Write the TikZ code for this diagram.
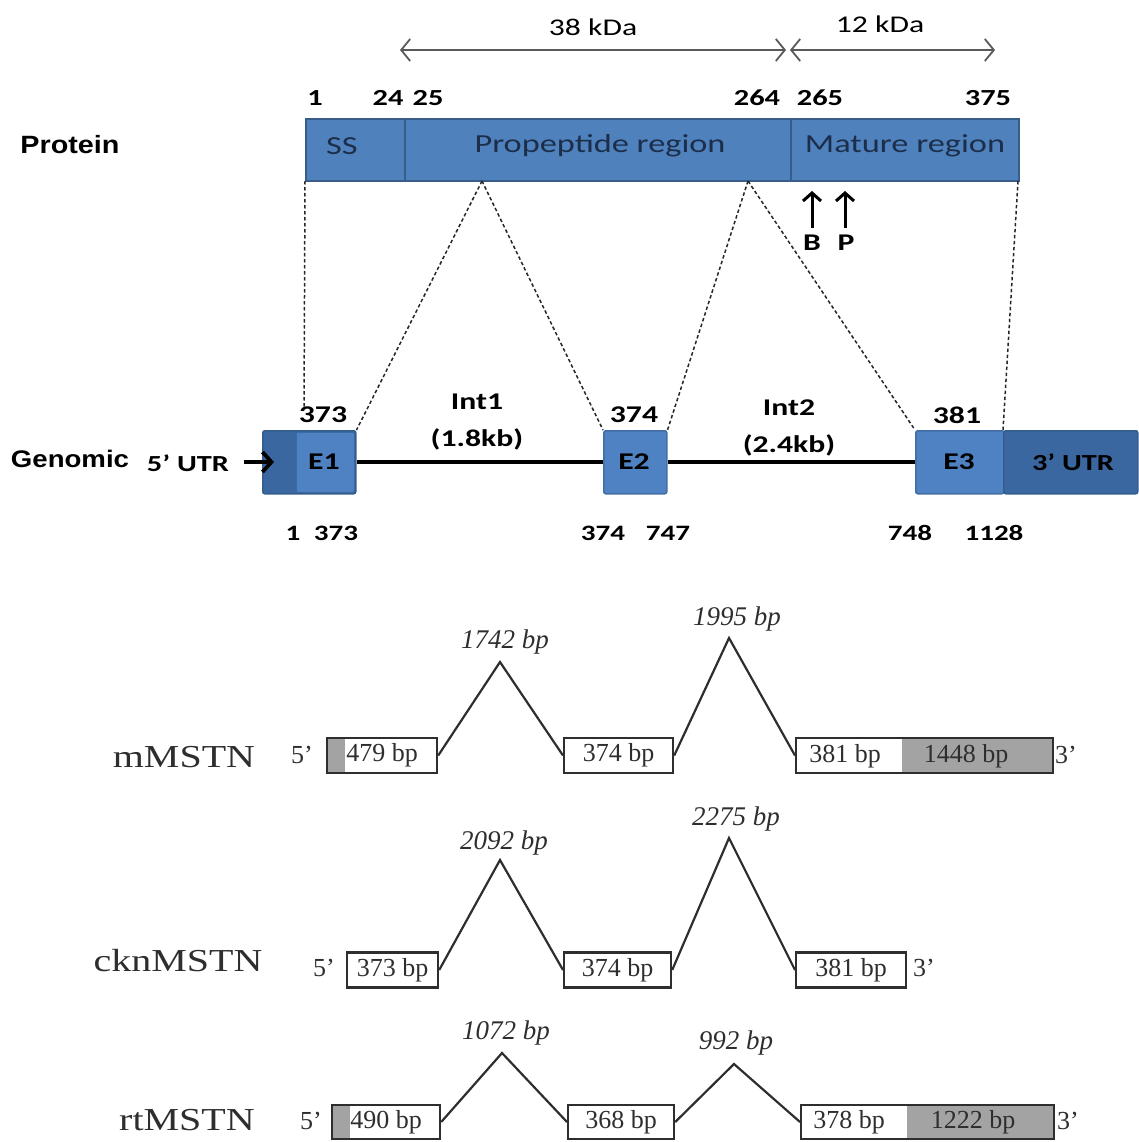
\documentclass[tikz,border=0pt]{standalone}
\usepackage{fontspec}
\setmainfont{Liberation Serif}
\newfontfamily\calfont[FakeStretch=1.32]{Carlito}
\newfontfamily\arialfont[FakeStretch=1.15]{Liberation Sans}
\newfontfamily\labfont[FakeStretch=1.25]{Liberation Serif}
\usetikzlibrary{arrows.meta}
\definecolor{pblue}{HTML}{4F81BD}
\definecolor{pborder}{HTML}{385D8A}
\definecolor{gdarkc}{HTML}{3A67A0}
\definecolor{glightc}{HTML}{4E82C2}
\definecolor{navytext}{HTML}{1C2E4A}
\definecolor{utrgrey}{HTML}{A3A3A3}
\definecolor{lowink}{HTML}{2E2E2E}
\tikzset{
  cal/.style={font=\calfont\fontsize{#1}{#1}\selectfont},
  calb/.style={font=\calfont\bfseries\fontsize{#1}{#1}\selectfont},
  arb/.style={font=\arialfont\bfseries\fontsize{#1}{#1}\selectfont},
  tms/.style={font=\fontsize{#1}{#1}\selectfont, text=lowink},
  tmslab/.style={font=\labfont\fontsize{#1}{#1}\selectfont, text=lowink},
  tmsi/.style={font=\itshape\fontsize{#1}{#1}\selectfont, text=lowink},
  pseg/.style={draw=pborder, fill=pblue, line width=2pt, minimum height=62pt, inner sep=0pt, anchor=north west},
  gdark/.style={draw=gdarkc!90!black, fill=gdarkc, line width=1.5pt, rounded corners=2pt, minimum height=63pt, inner sep=0pt, anchor=north west},
  glight/.style={draw=glightc!85!black, fill=glightc, line width=1.5pt, rounded corners=2pt, minimum height=63pt, inner sep=0pt, anchor=north west},
  kda/.style={draw=black!65, line width=1.8pt, {Straight Barb[length=9pt,width=22pt]}-{Straight Barb[length=9pt,width=22pt]}},
  uparrow/.style={draw=black, line width=3pt, -{Straight Barb[length=8pt,width=18pt]}},
  dashconn/.style={draw=black!85, line width=1.5pt, dash pattern=on 3.5pt off 2.5pt},
  intron/.style={draw=black, line width=4pt},
  exonbox/.style={draw=lowink, line width=2.2pt, minimum height=35pt, inner sep=0pt, anchor=west, font=\fontsize{26}{26}\selectfont, text=lowink},
  vline/.style={draw=lowink, line width=2.2pt},
}
\begin{document}
\begin{tikzpicture}[x=1pt,y=-1pt]
\useasboundingbox (0,0) rectangle (1139,1142);

% ---------- kDa arrows ----------
\coordinate (k38l) at (400,50);
\coordinate (k38r) at (786,50);
\coordinate (k12l) at (790,50);
\coordinate (k12r) at (995,50);
\draw[kda] (k38l) -- (k38r);
\draw[kda] (k12l) -- (k12r);
\node[cal=24] (t38) at (593,27) {38 kDa};
\node[cal=24] (t12) at (880,24) {12 kDa};

% ---------- residue numbers ----------
\node[calb=23] (n1) at (315,98) {1};
\node[calb=23] (n24) at (388,98) {24};
\node[calb=23] (n25) at (428,98) {25};
\node[calb=23] (n264) at (757,98) {264};
\node[calb=23] (n265) at (820,98) {265};
\node[calb=23] (n375) at (988,98) {375};

% ---------- protein bar ----------
\node[arb=25] (protein) at (70,145) {Protein};
\node[pseg, minimum width=99pt] (ss) at (305,118) {};
\node[pseg, minimum width=386pt] (prop) at (404,118) {};
\node[pseg, minimum width=228pt] (mat) at (790,118) {};
\node[cal=26, text=navytext] (tss) at (342,146) {SS};
\node[cal=26, text=navytext] (tprop) at (600,146) {Propeptide region};
\node[cal=26, text=navytext] (tmat) at (905,146) {Mature region};

% ---------- B / P ----------
\coordinate (b0) at (812,228);
\coordinate (b1) at (812,191);
\coordinate (p0) at (845,228);
\coordinate (p1) at (845,191);
\draw[uparrow] (b0) -- (b1);
\draw[uparrow] (p0) -- (p1);
\node[calb=24] (tb) at (812,243) {B};
\node[calb=24] (tp) at (846,243) {P};

% ---------- genomic ----------
\node[gdark, minimum width=93pt] (e1) at (262,430) {};
\node[glight, draw=none, rounded corners=1pt, minimum width=57pt, minimum height=59pt] (e1l) at (296,432) {};
\node[glight, minimum width=63pt] (e2) at (603,430) {};
\node[glight, minimum width=88pt] (e3) at (915,430) {};
\node[gdark, minimum width=134pt] (utr) at (1003,430) {};
\draw[intron] (e1.east) -- (e2.west);
\draw[intron] (e2.east) -- (e3.west);

\node[calb=24] (te1) at (324,462) {E1};
\node[calb=24] (te2) at (634,462) {E2};
\node[calb=24] (te3) at (959,462) {E3};
\node[calb=23] (tutr) at (1073,462) {3’ UTR};

\node[arb=24] (genomic) at (70,459) {Genomic};
\node[calb=23] (utr5) at (188,463) {5’ UTR};
\coordinate (ga0) at (244,462);
\coordinate (ga1) at (274,462);
\draw[draw=black, line width=3.8pt, -{Straight Barb[length=9pt,width=20pt]}] (ga0) -- (ga1);

\node[calb=24] (g373) at (323,415) {373};
\node[calb=24] (g374) at (634,415) {374};
\node[calb=24] (g381) at (957,415) {381};

\node[calb=24] (int1) at (477,402) {Int1};
\node[calb=24] (int1b) at (477,439) {(1.8kb)};
\node[calb=24] (int2) at (789,408) {Int2};
\node[calb=24] (int2b) at (789,445) {(2.4kb)};

\node[calb=22] (b1n) at (293,533) {1};
\node[calb=22] (b373) at (336,533) {373};
\node[calb=22] (b374) at (603,533) {374};
\node[calb=22] (b747) at (668,533) {747};
\node[calb=22] (b748) at (910,533) {748};
\node[calb=22] (b1128) at (994,533) {1128};

% ---------- dashed connectors ----------
\coordinate (pa) at (305,181);
\coordinate (pb) at (482,181);
\coordinate (pc) at (748,181);
\coordinate (pd) at (1018,181);
\coordinate (ga) at (304,410);
\draw[dashconn] (pa) -- (ga);
\draw[dashconn] (pb) -- (e1.north east);
\draw[dashconn] (pb) -- (e2.north west);
\draw[dashconn] (pc) -- (e2.north east);
\draw[dashconn] (pc) -- (e3.north west);
\draw[dashconn] (pd) -- (utr.north west);

% ---------- mMSTN ----------
\node[tmslab=32] (mlab) at (184,757) {mMSTN};
\node[tms=26] (m5) at (302,755) {5'};
\fill[utrgrey] (326,738) rectangle (345,773);
\node[exonbox, minimum width=110pt] (m1) at (326,755.5) {479 bp};
\node[exonbox, minimum width=109pt] (m2) at (563,755.5) {374 bp};
\fill[utrgrey] (902,738) rectangle (1052,773);
\node[exonbox, minimum width=257pt] (m3) at (795,755.5) {};
\node[tms=26] (m3a) at (845,756) {381 bp};
\node[tms=26] (m3b) at (966,756) {1448 bp};
\node[tms=26] (m3p) at (1066,755) {3'};
\coordinate (mv1) at (500,662);
\coordinate (mv2) at (729,638);
\draw[vline] (m1.east) -- (mv1) -- (m2.west);
\draw[vline] (m2.east) -- (mv2) -- (m3.west);
\node[tmsi=27] (mi1) at (505,642) {1742 bp};
\node[tmsi=27] (mi2) at (737,619) {1995 bp};

% ---------- cknMSTN ----------
\node[tmslab=32] (clab) at (178,961) {cknMSTN};
\node[tms=26] (c5) at (324,968) {5'};
\node[exonbox, minimum width=91pt] (c1) at (346,970) {373 bp};
\node[exonbox, minimum width=107pt] (c2) at (563,970) {374 bp};
\node[exonbox, minimum width=110pt] (c3) at (795,970) {381 bp};
\node[tms=26] (c3p) at (924,968) {3'};
\coordinate (cv1) at (500,860);
\coordinate (cv2) at (729,838);
\draw[vline] (c1.east) -- (cv1) -- (c2.west);
\draw[vline] (c2.east) -- (cv2) -- (c3.west);
\node[tmsi=27] (ci1) at (504,843) {2092 bp};
\node[tmsi=27] (ci2) at (736,819) {2275 bp};

% ---------- rtMSTN ----------
\node[tmslab=32] (rlab) at (187,1120) {rtMSTN};
\node[tms=26] (r5) at (311,1121) {5'};
\fill[utrgrey] (331,1105) rectangle (350,1139);
\node[exonbox, minimum width=108pt, minimum height=34pt] (r1) at (331,1122) {490 bp};
\node[exonbox, minimum width=106pt, minimum height=34pt] (r2) at (567,1122) {368 bp};
\fill[utrgrey] (907,1105) rectangle (1053,1139);
\node[exonbox, minimum width=253pt, minimum height=34pt] (r3) at (800,1122) {};
\node[tms=26] (r3a) at (849,1122) {378 bp};
\node[tms=26] (r3b) at (973,1122) {1222 bp};
\node[tms=26] (r3p) at (1068,1121) {3'};
\coordinate (rv1) at (502,1053);
\coordinate (rv2) at (734,1064);
\draw[vline] (r1.east) -- (rv1) -- (r2.west);
\draw[vline] (r2.east) -- (rv2) -- (r3.west);
\node[tmsi=27] (ri1) at (506,1033) {1072 bp};
\node[tmsi=27] (ri2) at (736,1043) {992 bp};
\end{tikzpicture}
\end{document}
